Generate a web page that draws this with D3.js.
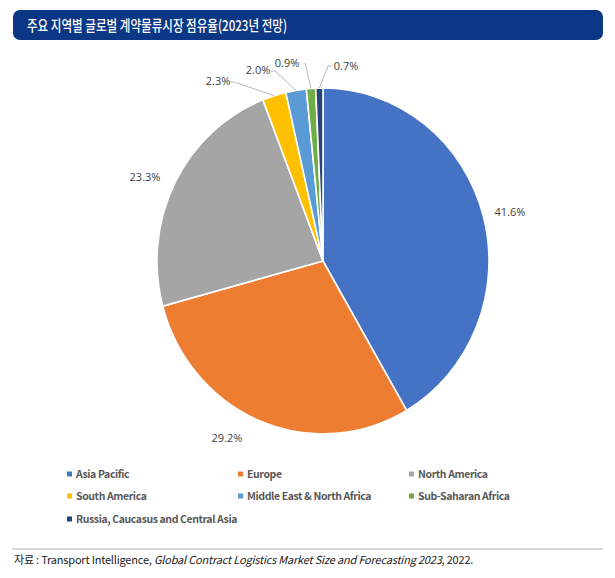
<!DOCTYPE html>
<html>
<head>
<meta charset="utf-8">
<script src="https://cdn.jsdelivr.net/npm/d3@7"></script>
<style>
  body { margin: 0; background: #fff; }
</style>
</head>
<body>
<div id="chart"></div>
<script>
// 지역별 점유율 (2023 전망)
const regions = ["Asia Pacific", "Europe", "North America", "South America",
  "Middle East & North Africa", "Sub-Saharan Africa", "Russia, Caucasus and Central Asia"];
const shares = [41.6, 29.2, 23.3, 2.3, 2.0, 0.9, 0.7];
const colors = ["#4472c4", "#ed7d31", "#a5a5a5", "#ffc000", "#5b9bd5", "#70ad47", "#264478"];
const labelText = ["41.6%", "29.2%", "23.3%", "2.3%", "2.0%", "0.9%", "0.7%"];

var width = 615;
var height = 578;

const svg = d3.select("#chart")
    .append("svg")
    .attr("width", width)
    .attr("height", height)
    .style("background-color", "#fff");

// 제목 바
svg.append("rect")
    .attr("x", 13).attr("y", 10)
    .attr("width", 590).attr("height", 30)
    .attr("rx", 7)
    .attr("fill", "#0b3784");
svg.append("text")
    .text("주요 지역별 글로벌 계약물류시장 점유율(2023년 전망)")
    .attr("x", 27).attr("y", 31)
    .attr("fill", "#fff")
    .attr("textLength", 260)
    .attr("lengthAdjust", "spacingAndGlyphs")
    .style("font-size", "15px")
    .style("font-weight", "500")
    .style("font-family", "'Noto Sans CJK KR', sans-serif");

// 파이
const cx = 323, cy = 261, r = 166;
const pie = d3.pie().sort(null).value(d => d);
const arcs = pie(shares);
const arc = d3.arc().innerRadius(0).outerRadius(r);

const pieG = svg.append("g")
    .attr("transform", `translate(${cx},${cy}) scale(1,1.042)`);

pieG.selectAll("path")
    .data(arcs)
    .enter()
    .append("path")
    .attr("d", arc)
    .attr("fill", (d, i) => colors[i])
    .attr("stroke", "#fff")
    .attr("stroke-width", 1.6);

// 리더선 (라벨 끝 -> 조각 가장자리)
const leaderIdx = [3, 4, 5, 6];
const leaderStart = { 3: [-93, -179], 4: [-52, -190], 5: [-18, -198], 6: [9, -195] };

const lineGen = d3.line();
leaderIdx.forEach(function (i) {
    const a = (arcs[i].startAngle + arcs[i].endAngle) / 2;
    const ex = Math.sin(a) * r, ey = -Math.cos(a) * r * 1.042;
    const s = leaderStart[i];
    const pts = [[cx + s[0], cy + s[1]], [cx + s[0] + (i == 6 ? -4 : 4), cy + s[1]], [cx + ex, cy + ey]];
    if (i == 5) pts.splice(1, 1);
    svg.append("path")
        .attr("d", lineGen(pts))
        .attr("fill", "none")
        .attr("stroke", "#a6a6a6")
        .attr("stroke-width", 0.8);
});

const lbl = [
  [510, 216, "middle"], [227, 442, "middle"], [145, 181, "middle"],
  [218, 85, "middle"], [258, 74, "middle"], [287, 67, "middle"], [346, 70, "middle"]
];
svg.selectAll("text.pct")
    .data(labelText)
    .enter()
    .append("text")
    .attr("class", "pct")
    .text(d => d)
    .attr("x", (d, i) => lbl[i][0])
    .attr("y", (d, i) => lbl[i][1])
    .attr("text-anchor", (d, i) => lbl[i][2])
    .attr("fill", "#404040")
    .style("font-size", "11px")
    .style("font-family", "'Open Sans', sans-serif");

// 범례
const legX = d3.scaleOrdinal().domain([0, 1, 2]).range([67, 238, 409]);
const legY = d3.scaleOrdinal().domain([0, 1, 2]).range([474, 496, 519]);
const leg = svg.selectAll("g.leg")
    .data(regions)
    .enter()
    .append("g")
    .attr("class", "leg")
    .attr("transform", (d, i) => `translate(${legX(i % 3)},${legY(Math.floor(i / 3))})`);
leg.append("rect")
    .attr("x", 0).attr("y", -2.5)
    .attr("width", 5).attr("height", 5)
    .attr("fill", (d, i) => colors[i]);
leg.append("text")
    .text(d => d)
    .attr("x", 9).attr("y", 4)
    .attr("fill", "#595959")
    .style("font-size", "10.5px")
    .style("font-weight", "bold")
    .style("letter-spacing", "-0.4px")
    .style("font-family", "'Noto Sans CJK KR', sans-serif");

// 출처
svg.append("line")
    .attr("x1", 12).attr("x2", 603)
    .attr("y1", 549).attr("y2", 549)
    .attr("stroke", "#b0b0b0").attr("stroke-width", 1);
const src = svg.append("text")
    .attr("x", 14).attr("y", 564)
    .attr("fill", "#222")
    .style("font-size", "11px")
    .style("font-family", "'Noto Sans CJK KR', sans-serif")
    .style("letter-spacing", "-0.2px");
src.append("tspan").text("자료 : Transport Intelligence, ");
src.append("tspan").style("font-style", "italic").text("Global Contract Logistics Market Size and Forecasting 2023");
src.append("tspan").text(", 2022.");
</script>
</body>
</html>
